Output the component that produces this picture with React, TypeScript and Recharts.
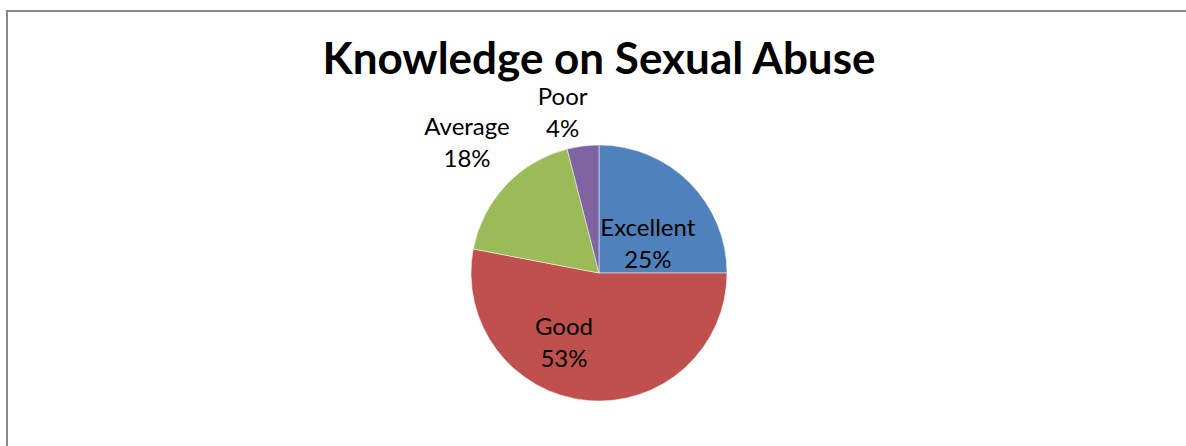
import { PieChart, Pie, Cell } from "recharts";

const categories = ["Excellent", "Good", "Average", "Poor"];
const percents = [25, 53, 18, 4];
const colors = ["#4F81BD", "#C0504D", "#9BBB59", "#8064A2"];

const data = categories.map((name, i) => ({ name, value: percents[i] }));

// where Excel put each label, relative to the pie centre (radius in px, angle in degrees)
const labelPlace: Record<string, { r: number; a: number }> = {
  Excellent: { r: 57, a: 31 },
  Good: { r: 78, a: -116.7 },
  Average: { r: 185, a: 135.5 },
  Poor: { r: 164, a: 102.8 },
};

const RADIAN = Math.PI / 180;

const renderLabel = (props: any) => {
  const { cx, cy, name, value } = props;
  const p = labelPlace[name];
  const x = cx + p.r * Math.cos(p.a * RADIAN);
  const y = cy - p.r * Math.sin(p.a * RADIAN);
  return (
    <text
      x={x}
      y={y}
      textAnchor="middle"
      fill="#000"
      fontSize={24}
      fontFamily="Lato, 'Open Sans', sans-serif"
    >
      <tspan x={x} dy={-8}>{name}</tspan>
      <tspan x={x} dy={32}>{value}%</tspan>
    </text>
  );
};

export default function App() {
  return (
    <div
      style={{
        position: "absolute",
        left: 0,
        top: 0,
        width: 1186,
        height: 446,
        overflow: "hidden",
        background: "#fff",
      }}
    >
      <div
        style={{
          position: "absolute",
          left: 6,
          top: 10,
          width: 1300,
          height: 600,
          border: "2px solid #8a8a8a",
        }}
      />
      <div
        style={{
          position: "absolute",
          left: 0,
          top: 38,
          width: 1198,
          textAlign: "center",
          fontFamily: "Lato, 'Open Sans', sans-serif",
          fontWeight: 700,
          fontSize: 44,
          lineHeight: "38px",
          color: "#000",
        }}
      >
        Knowledge on Sexual Abuse
      </div>
      <div style={{ position: "absolute", left: 0, top: 0 }}>
        <PieChart
          width={1186}
          height={446}
          margin={{ top: 0, right: 0, bottom: 0, left: 0 }}
        >
          <Pie
            data={data}
            dataKey="value"
            nameKey="name"
            cx={599}
            cy={273}
            outerRadius={128}
            startAngle={90}
            endAngle={-270}
            stroke="#ffffff"
            strokeWidth={0.5}
            label={renderLabel}
            labelLine={false}
            isAnimationActive={false}
          >
            {data.map((d, i) => (
              <Cell key={d.name} fill={colors[i]} />
            ))}
          </Pie>
        </PieChart>
      </div>
    </div>
  );
}
